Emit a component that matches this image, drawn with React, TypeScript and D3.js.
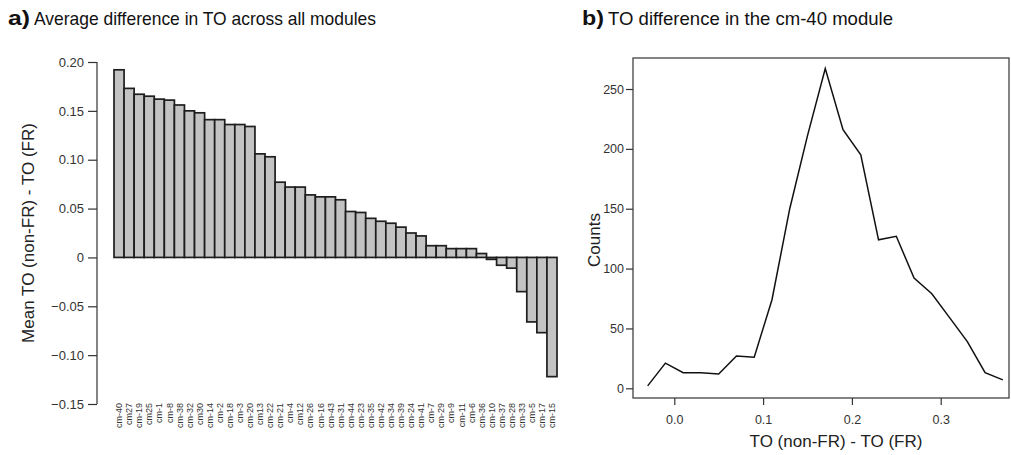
import React, { Component } from "react";
import * as d3 from "d3";

// panel a: mean TO difference per module
const modules = ["cm-40", "cm27", "cm-19", "cm25", "cm-1", "cm-8", "cm-38", "cm-32", "cm30", "cm-14",
  "cm-2", "cm-18", "cm-3", "cm-20", "cm13", "cm-22", "cm-21", "cm-4", "cm12", "cm-26",
  "cm-16", "cm-43", "cm-31", "cm-44", "cm-23", "cm-35", "cm-42", "cm-34", "cm-39", "cm-24",
  "cm-41", "cm-7", "cm-29", "cm-9", "cm-11", "cm-6", "cm-36", "cm-10", "cm-37", "cm-28",
  "cm-33", "cm-5", "cm-17", "cm-15"];
const meanDiff = [0.192, 0.173, 0.167, 0.165, 0.162, 0.161, 0.156, 0.150, 0.148, 0.141,
  0.141, 0.136, 0.136, 0.134, 0.106, 0.103, 0.077, 0.072, 0.072, 0.064,
  0.062, 0.062, 0.059, 0.047, 0.046, 0.040, 0.037, 0.035, 0.031, 0.025,
  0.022, 0.012, 0.012, 0.009, 0.009, 0.009, 0.004, -0.002, -0.008, -0.011,
  -0.035, -0.066, -0.077, -0.122];
const barTicks = [0.20, 0.15, 0.10, 0.05, 0, -0.05, -0.10, -0.15];

// panel b: distribution for cm-40
const toDiff = [-0.03, -0.01, 0.01, 0.03, 0.05, 0.07, 0.09, 0.11, 0.13, 0.15, 0.17,
  0.19, 0.21, 0.23, 0.25, 0.27, 0.29, 0.31, 0.33, 0.35, 0.37];
const counts = [2, 21, 13, 13, 12, 27, 26, 74, 150, 211, 267,
  216, 195, 124, 127, 92, 79, 59, 39, 13, 7];
const countTicks = [0, 50, 100, 150, 200, 250];
const diffTicks = [0.0, 0.1, 0.2, 0.3];

const FONT = "'Liberation Sans', Arial, sans-serif";

class App extends Component {
  svgRef: React.RefObject<SVGSVGElement>;

  constructor(props: any) {
    super(props);
    this.svgRef = React.createRef();
  }

  componentDidMount() {
    this.drawChart();
  }

  componentDidUpdate() {
    this.drawChart();
  }

  drawChart() {
    const svg = d3.select(this.svgRef.current);
    svg.selectAll("*").remove();

    svg.append("rect").attr("width", 1011).attr("height", 455).attr("fill", "#fff");

    // titles
    svg.append("text").attr("x", 8).attr("y", 25)
      .style("font-family", FONT).style("font-size", "21px").style("font-weight", "bold")
      .attr("textLength", 22).attr("lengthAdjust", "spacingAndGlyphs")
      .attr("fill", "#111").text("a)");
    svg.append("text").attr("x", 34).attr("y", 25)
      .style("font-family", FONT).style("font-size", "19px")
      .attr("textLength", 342).attr("lengthAdjust", "spacingAndGlyphs")
      .attr("fill", "#111").text("Average difference in TO across all modules");
    svg.append("text").attr("x", 582).attr("y", 25)
      .style("font-family", FONT).style("font-size", "21px").style("font-weight", "bold")
      .attr("textLength", 22).attr("lengthAdjust", "spacingAndGlyphs")
      .attr("fill", "#111").text("b)");
    svg.append("text").attr("x", 608).attr("y", 25)
      .style("font-family", FONT).style("font-size", "19px")
      .attr("textLength", 285).attr("lengthAdjust", "spacingAndGlyphs")
      .attr("fill", "#111").text("TO difference in the cm-40 module");

    // ----- panel a -----
    const xBand = d3.scaleBand().domain(modules).range([114, 557]).padding(0);
    const yBar = d3.scaleLinear().domain([-0.15, 0.20]).range([404, 62]);

    const ga = svg.append("g");
    ga.selectAll("rect.bar")
      .data(modules)
      .enter()
      .append("rect")
      .attr("class", "bar")
      .attr("x", d => xBand(d)!)
      .attr("width", xBand.bandwidth())
      .attr("y", (d, i) => yBar(Math.max(0, meanDiff[i])))
      .attr("height", (d, i) => Math.abs(yBar(meanDiff[i]) - yBar(0)))
      .attr("fill", "#c3c3c3")
      .attr("stroke", "#1e1e1e")
      .attr("stroke-width", 1.7);

    const yAxisA = d3.axisLeft(yBar).tickValues(barTicks).tickSize(9).tickPadding(4)
      .tickFormat(d => (+d === 0 ? "0" : d3.format(".2f")(+d)));
    const ya = ga.append("g").attr("transform", "translate(97,0)").call(yAxisA);
    ya.select(".domain").attr("d", `M0,${yBar(0.2)}V${yBar(-0.15)}`).attr("stroke", "#333").attr("stroke-width", 1.2);
    ya.selectAll(".tick line").attr("stroke", "#333").attr("stroke-width", 1.2);
    ya.selectAll(".tick text").style("font-family", FONT).style("font-size", "13px").attr("fill", "#333");

    ga.selectAll("text.mod")
      .data(modules)
      .enter()
      .append("text")
      .attr("class", "mod")
      .attr("transform", d => `translate(${xBand(d)! + xBand.bandwidth() / 2},403) rotate(-90)`)
      .attr("text-anchor", "end")
      .attr("dy", "0.35em")
      .style("font-family", FONT).style("font-size", "9px")
      .attr("fill", "#333")
      .text(d => d);

    ga.append("text")
      .attr("transform", "translate(34,233) rotate(-90)")
      .attr("text-anchor", "middle")
      .style("font-family", FONT).style("font-size", "17px")
      .attr("fill", "#222")
      .text("Mean TO (non-FR) - TO (FR)");

    // ----- panel b -----
    const xLine = d3.scaleLinear().domain([0, 0.3]).range([674.3, 940.7]);
    const yLine = d3.scaleLinear().domain([0, 250]).range([388.3, 89]);
    const gb = svg.append("g");

    gb.append("rect").attr("x", 633).attr("y", 58).attr("width", 376).attr("height", 340)
      .attr("fill", "none").attr("stroke", "#333").attr("stroke-width", 1.2);

    const line = d3.line<number>()
      .x((d, i) => xLine(toDiff[i]))
      .y(d => yLine(d));
    gb.append("path").datum(counts).attr("d", line)
      .attr("fill", "none").attr("stroke", "#111").attr("stroke-width", 1.5);

    const yAxisB = d3.axisLeft(yLine).tickValues(countTicks).tickSize(7).tickPadding(2);
    const yb = gb.append("g").attr("transform", "translate(633,0)").call(yAxisB);
    yb.select(".domain").remove();
    yb.selectAll(".tick line").attr("stroke", "#333").attr("stroke-width", 1.2);
    yb.selectAll(".tick text").style("font-family", FONT).style("font-size", "12.5px").attr("fill", "#333");

    const xAxisB = d3.axisBottom(xLine).tickValues(diffTicks).tickSize(7).tickPadding(10)
      .tickFormat(d3.format(".1f"));
    const xb = gb.append("g").attr("transform", "translate(0,398)").call(xAxisB);
    xb.select(".domain").remove();
    xb.selectAll(".tick line").attr("stroke", "#333").attr("stroke-width", 1.2);
    xb.selectAll(".tick text").style("font-family", FONT).style("font-size", "12.5px").attr("fill", "#333");

    gb.append("text")
      .attr("x", 836).attr("y", 447)
      .attr("text-anchor", "middle")
      .style("font-family", FONT).style("font-size", "17px")
      .attr("fill", "#222")
      .text("TO (non-FR) - TO (FR)");

    gb.append("text")
      .attr("transform", "translate(600,240) rotate(-90)")
      .attr("text-anchor", "middle")
      .style("font-family", FONT).style("font-size", "17px")
      .attr("fill", "#222")
      .text("Counts");
  }

  render() {
    return (
      <svg
        ref={this.svgRef}
        width={1011}
        height={455}
        style={{ position: "absolute", left: 0, top: 0, display: "block" }}
      ></svg>
    );
  }
}

export default App;
